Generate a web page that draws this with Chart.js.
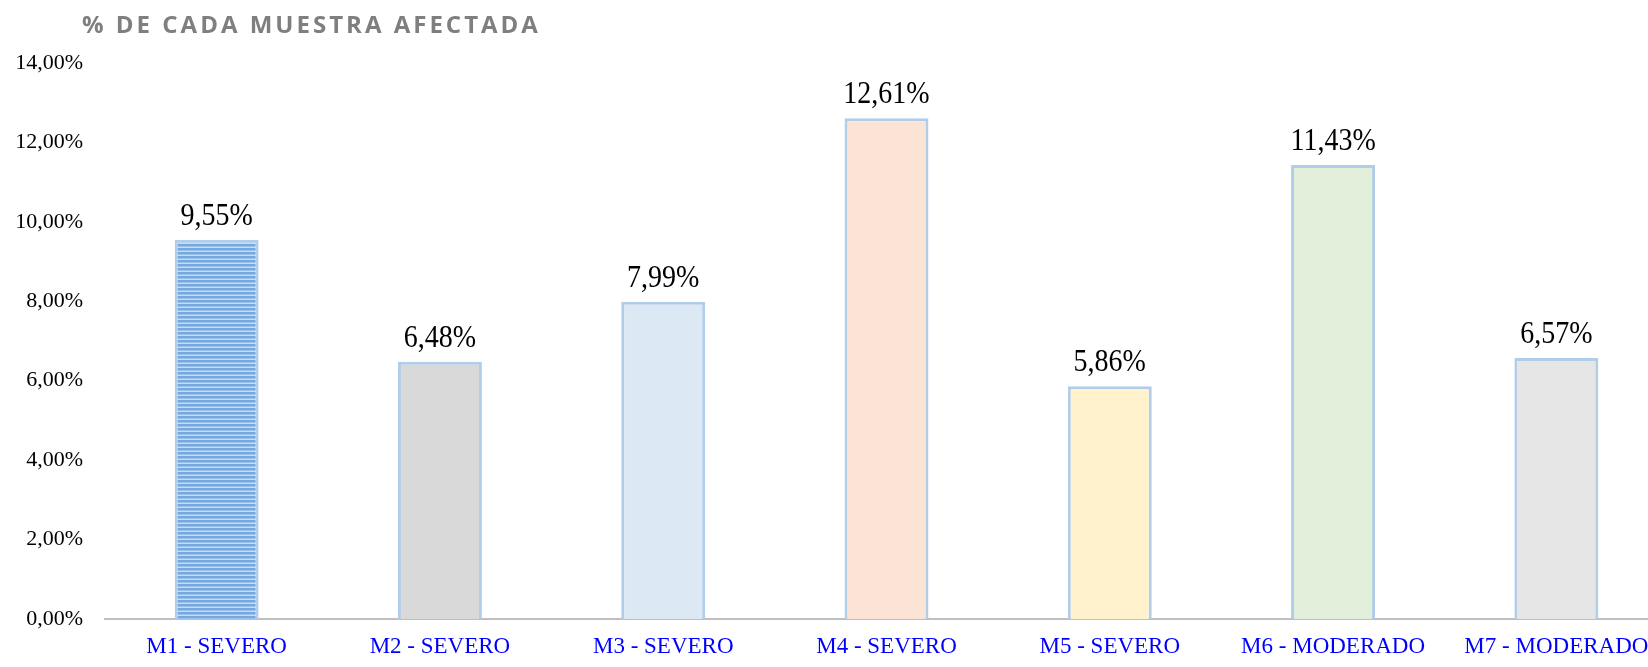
<!DOCTYPE html>
<html lang="es">
<head>
<meta charset="utf-8">
<title>% de cada muestra afectada</title>
<script src="https://cdn.jsdelivr.net/npm/chart.js@4/dist/chart.umd.min.js"></script>
<style>
  html, body { margin: 0; padding: 0; background: #ffffff; overflow: hidden; }
  body { width: 1648px; height: 667px; position: relative; }
  #titulo {
    position: absolute; left: 82px; top: 12px;
    font-family: "Open Sans", "Liberation Sans", sans-serif;
    font-weight: 700; font-size: 24px; line-height: 24px;
    letter-spacing: 3px; color: #7f7f7f; white-space: nowrap;
    z-index: 2;
  }
  #marco { position: absolute; left: 0; top: 0; width: 1668px; height: 667px; }
</style>
</head>
<body>
<div id="titulo">% DE CADA MUESTRA AFECTADA</div>
<div id="marco"><canvas id="grafico"></canvas></div>
<script>
// Muestras y porcentaje afectado de cada una
const categorias = ['M1 - SEVERO', 'M2 - SEVERO', 'M3 - SEVERO', 'M4 - SEVERO', 'M5 - SEVERO', 'M6 - MODERADO', 'M7 - MODERADO'];
const porcentajes = [9.55, 6.48, 7.99, 12.61, 5.86, 11.43, 6.57];
const marcasEje = [0, 2, 4, 6, 8, 10, 12, 14];

const formatoPct = v => v.toFixed(2).replace('.', ',') + '%';

// Relleno rayado horizontal de la primera barra
function rayado() {
  const c = document.createElement('canvas');
  c.width = 8; c.height = 4;
  const g = c.getContext('2d');
  g.fillStyle = '#74a8df'; g.fillRect(0, 0, 8, 2);
  g.fillStyle = '#9cc2ea'; g.fillRect(0, 2, 8, 1);
  g.fillStyle = '#c6dcf3'; g.fillRect(0, 3, 8, 1);
  return g.createPattern(c, 'repeat');
}

const ctx = document.getElementById('grafico').getContext('2d');
const rellenos = [rayado(), '#d9d9d9', '#dde8f5', '#fbe4d6', '#fff2cc', '#e2efda', '#e7e6e6'];

// Etiquetas de valor sobre cada barra (ligeramente alargadas en vertical)
const etiquetasValor = {
  id: 'etiquetasValor',
  afterDatasetsDraw(chart) {
    const c = chart.ctx;
    const meta = chart.getDatasetMeta(0);
    meta.data.forEach((bar, i) => {
      c.save();
      c.translate(bar.x, bar.y - 15);
      c.scale(1, 1.1);
      c.font = '28px "Liberation Serif", "Times New Roman", serif';
      c.fillStyle = '#000000';
      c.textAlign = 'center';
      c.textBaseline = 'alphabetic';
      c.fillText(formatoPct(chart.data.datasets[0].data[i]), 0, 0);
      c.restore();
    });
  }
};

new Chart(ctx, {
  type: 'bar',
  data: {
    labels: categorias,
    datasets: [{
      data: porcentajes,
      backgroundColor: rellenos,
      borderColor: '#b2cde8',
      borderWidth: 3,
      borderSkipped: 'start',
      categoryPercentage: 1,
      barPercentage: 0.376
    }]
  },
  options: {
    responsive: true,
    maintainAspectRatio: false,
    animation: false,
    layout: { padding: { top: 63, left: 0, right: 0, bottom: 0 } },
    plugins: { legend: { display: false }, tooltip: { enabled: false }, title: { display: false } },
    scales: {
      x: {
        grid: { display: false, drawTicks: false },
        border: { display: true, color: '#bfbfbf', width: 2 },
        ticks: {
          color: '#0000ff',
          font: { family: '"Liberation Serif", "Times New Roman", serif', size: 23 },
          padding: 14,
          autoSkip: false,
          maxRotation: 0
        },
        afterFit(scale) { scale.height = 48; }
      },
      y: {
        min: 0,
        max: 14,
        afterBuildTicks(scale) { scale.ticks = marcasEje.map(v => ({ value: v })); },
        grid: { display: false, drawTicks: false },
        border: { display: false },
        ticks: {
          color: '#000000',
          font: { family: '"Liberation Serif", "Times New Roman", serif', size: 22 },
          padding: 22,
          callback: v => formatoPct(v)
        },
        afterFit(scale) { scale.width = 105; }
      }
    }
  },
  plugins: [etiquetasValor]
});
</script>
</body>
</html>
